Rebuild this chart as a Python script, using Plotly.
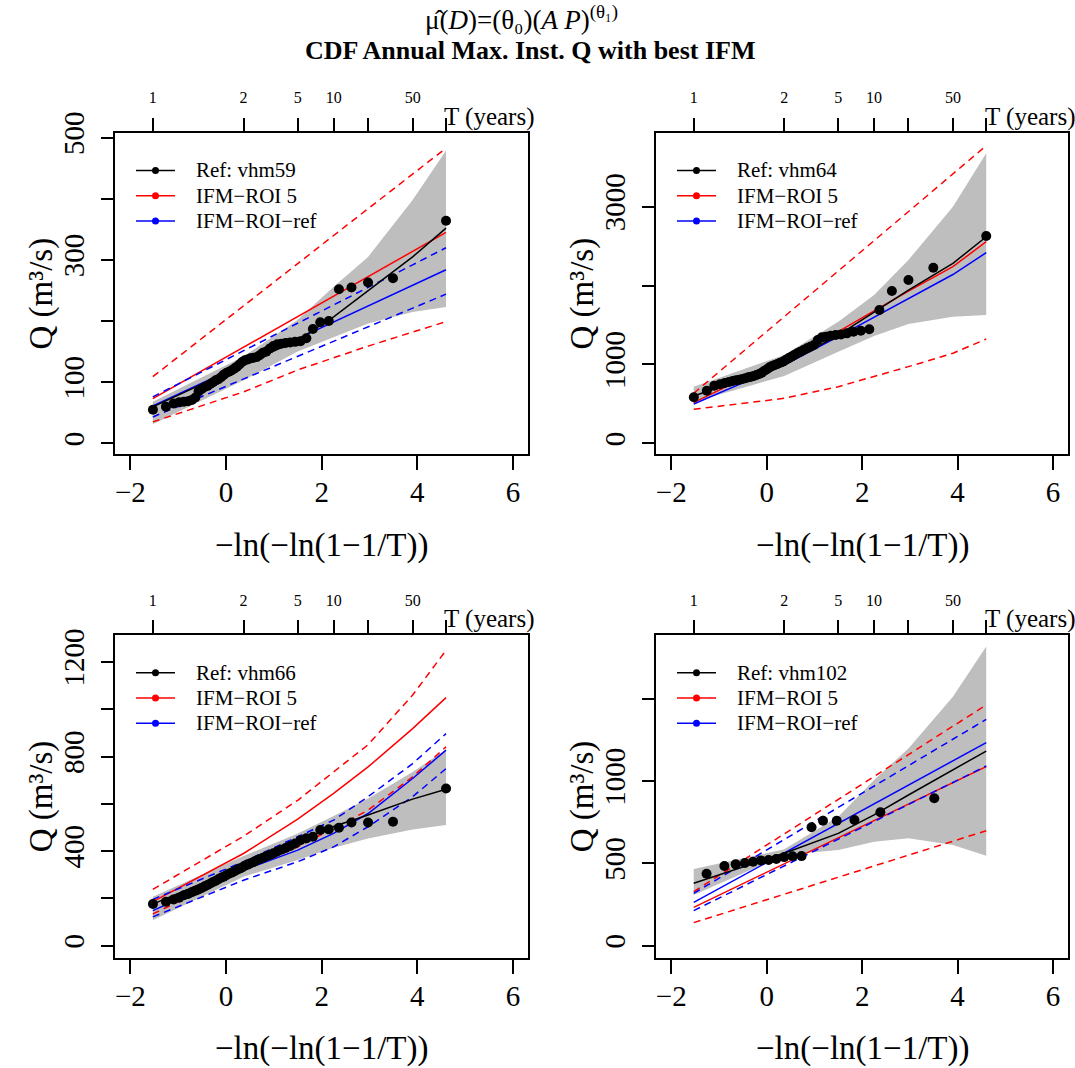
import numpy as np
import plotly.graph_objects as go

W, H = 1075, 1068
FONT = "Liberation Serif"

# ---------------- data ----------------
# return periods used for the fitted curves and the top axis
T_years = [1.01, 2, 5, 10, 20, 50, 100]
T_labels = ["1", "2", "5", "10", "", "50", ""]

x_tickvals = [-2, 0, 2, 4, 6]
x_ticktext = ["\u22122", "0", "2", "4", "6"]

stations = ["vhm59", "vhm64", "vhm66", "vhm102"]

# observed annual maximum instantaneous discharge (sorted), m3/s
obs_vhm59 = [55, 60, 65, 67, 68, 69, 71, 75, 85, 89, 92, 94, 97, 100, 103, 105, 108, 112,
             115, 117, 119, 122, 125, 129, 133, 136, 137, 139, 140, 141, 144, 148, 150, 155,
             159, 162, 163, 164, 165, 166, 167, 172, 187, 198, 200, 252, 255, 263, 270, 364]
obs_vhm64 = [583, 667, 731, 748, 765, 777, 790, 798, 807, 815, 824, 836, 845, 853, 866, 879,
             896, 921, 938, 963, 980, 993, 1005, 1022, 1035, 1056, 1077, 1098, 1120, 1141,
             1162, 1183, 1204, 1225, 1246, 1310, 1343, 1352, 1365, 1373, 1381, 1394, 1415,
             1428, 1445, 1690, 1931, 2070, 2226, 2628]
obs_vhm66 = [176, 186, 195, 203, 213, 219, 226, 232, 238, 244, 251, 257, 263, 269, 275, 281,
             287, 292, 298, 304, 309, 314, 320, 326, 331, 338, 343, 349, 354, 360, 366, 372,
             378, 384, 391, 398, 406, 413, 422, 432, 446, 454, 461, 489, 492, 499, 521, 521,
             524, 665]
obs_vhm102 = [437, 484, 494, 502, 510, 518, 520, 526, 538, 543, 544, 719, 759, 759, 763, 810, 895]

# quantiles at T_years: reference fit, uncertainty band, IFM-ROI 5 and IFM-ROI-ref (+ bounds)
band_lo_vhm59 = [31, 103, 150, 174, 196, 215, 223]
band_hi_vhm59 = [68, 142, 202, 256, 305, 398, 479]
fit_vhm59 = [59.5, 128, 169, 207, 250, 305, 352]
roi5_vhm59 = [73, 157, 207.5, 240.8, 272.8, 314, 345]
roi5_lo_vhm59 = [35, 84, 120, 140, 159, 182, 199]
roi5_hi_vhm59 = [109, 224, 294, 340, 384, 440, 483]
roiref_vhm59 = [61, 130, 171, 198, 224, 258, 284]
roiref_lo_vhm59 = [43, 105, 142, 167, 191, 221, 244]
roiref_hi_vhm59 = [76, 152, 197, 227, 255, 292, 320]

band_lo_vhm64 = [528, 853, 1162, 1360, 1512, 1605, 1627]
band_hi_vhm64 = [718, 1120, 1542, 1880, 2324, 3000, 3676]
fit_vhm64 = [600, 993, 1373, 1669, 1943, 2281, 2619]
roi5_vhm64 = [515, 1077, 1415, 1680, 1930, 2240, 2556]
roi5_lo_vhm64 = [431, 570, 718, 845, 972, 1141, 1322]
roi5_hi_vhm64 = [634, 1605, 2185, 2569, 2938, 3414, 3773]
roiref_vhm64 = [498, 993, 1352, 1600, 1830, 2140, 2417]
roiref_lo_vhm64 = None
roiref_hi_vhm64 = None

band_lo_vhm66 = [108, 292, 362, 414, 453, 491, 510]
band_hi_vhm66 = [207, 379, 475, 548, 622, 735, 830]
fit_vhm66 = [176, 337, 440, 504, 553, 620, 662]
roi5_vhm66 = [186, 390, 535, 644, 756, 918, 1049]
roi5_lo_vhm66 = [134, 320, 418, 496, 573, 714, 841]
roi5_hi_vhm66 = [238, 463, 615, 733, 850, 1060, 1249]
roiref_vhm66 = [148, 320, 404, 475, 559, 707, 827]
roiref_lo_vhm66 = [122, 277, 355, 418, 503, 630, 749]
roiref_hi_vhm66 = [196, 355, 461, 531, 630, 770, 897]

band_lo_vhm102 = [308, 551, 581, 631, 652, 611, 546]
band_hi_vhm102 = [466, 585, 783, 1006, 1198, 1512, 1816]
fit_vhm102 = [379, 561, 682, 794, 915, 1067, 1182]
roi5_vhm102 = [233, 497, 655, 759, 860, 989, 1087]
roi5_lo_vhm102 = [140, 313, 416, 484, 550, 634, 698]
roi5_hi_vhm102 = [328, 679, 888, 1027, 1160, 1332, 1462]
roiref_vhm102 = [263, 563, 742, 861, 975, 1122, 1233]
roiref_lo_vhm102 = [213, 485, 647, 754, 858, 991, 1091]
roiref_hi_vhm102 = [318, 645, 840, 969, 1093, 1253, 1374]

# y axis ticks / labels per panel
y_ticks = [[0, 100, 200, 300, 400, 500],
           [0, 1000, 2000, 3000],
           [0, 200, 400, 600, 800, 1000, 1200],
           [0, 500, 1000, 1500]]
y_ticktext = [["0", "100", "", "300", "", "500"],
              ["0", "1000", "", "3000"],
              ["0", "", "400", "", "800", "", "1200"],
              ["0", "500", "1000", ""]]
y_ranges = [[-18.0, 508.2], [-139.5, 3938], [-50.8, 1314], [-72.9, 1886.5]]
x_range = [-2.32, 6.32]

panels = [
    dict(obs=obs_vhm59, lo=band_lo_vhm59, hi=band_hi_vhm59, fit=fit_vhm59,
         r5=roi5_vhm59, r5lo=roi5_lo_vhm59, r5hi=roi5_hi_vhm59,
         rr=roiref_vhm59, rrlo=roiref_lo_vhm59, rrhi=roiref_hi_vhm59),
    dict(obs=obs_vhm64, lo=band_lo_vhm64, hi=band_hi_vhm64, fit=fit_vhm64,
         r5=roi5_vhm64, r5lo=roi5_lo_vhm64, r5hi=roi5_hi_vhm64,
         rr=roiref_vhm64, rrlo=roiref_lo_vhm64, rrhi=roiref_hi_vhm64),
    dict(obs=obs_vhm66, lo=band_lo_vhm66, hi=band_hi_vhm66, fit=fit_vhm66,
         r5=roi5_vhm66, r5lo=roi5_lo_vhm66, r5hi=roi5_hi_vhm66,
         rr=roiref_vhm66, rrlo=roiref_lo_vhm66, rrhi=roiref_hi_vhm66),
    dict(obs=obs_vhm102, lo=band_lo_vhm102, hi=band_hi_vhm102, fit=fit_vhm102,
         r5=roi5_vhm102, r5lo=roi5_lo_vhm102, r5hi=roi5_hi_vhm102,
         rr=roiref_vhm102, rrlo=roiref_lo_vhm102, rrhi=roiref_hi_vhm102),
]

# ---------------- helpers ----------------
def gumbel(F):
    F = np.asarray(F, dtype=float)
    return -np.log(-np.log(F))

xT = gumbel(1.0 - 1.0 / np.array(T_years))

def px_x(p):
    return p / W

def px_y(p):
    return 1.0 - p / H

# plot boxes in pixels (left, top, right, bottom)
boxes = [(115.0, 132.7, 528.3, 454.3), (656.0, 132.7, 1068.3, 454.3),
         (115.0, 635.0, 528.3, 957.7), (656.0, 635.0, 1068.3, 957.7)]

BLACK, RED, BLUE, GREY = "#000000", "#FF0000", "#0000FF", "#BEBEBE"
DASH = "7px,5px"
LW = 1.5

fig = go.Figure()
layout = dict(width=W, height=H,
              margin=dict(l=0, r=0, t=0, b=0, pad=0, autoexpand=False),
              paper_bgcolor="white", plot_bgcolor="white", showlegend=False,
              font=dict(family=FONT, color="black"))
annotations = []
shapes = []

for k, (p, box) in enumerate(zip(panels, boxes), start=1):
    xa, ya = f"x{k}", f"y{k}"
    L, T, R, B = box
    xd = [px_x(L), px_x(R)]
    yd = [px_y(B), px_y(T)]

    # band
    bx = list(xT) + list(xT[::-1])
    by = list(p["lo"]) + list(p["hi"][::-1])
    fig.add_trace(go.Scatter(x=bx, y=by, fill="toself", fillcolor=GREY, mode="lines",
                             line=dict(width=0, color=GREY), xaxis=xa, yaxis=ya,
                             hoverinfo="skip"))
    # IFM-ROI 5
    fig.add_trace(go.Scatter(x=xT, y=p["r5"], mode="lines", line=dict(color=RED, width=LW),
                             xaxis=xa, yaxis=ya))
    for key in ("r5lo", "r5hi"):
        fig.add_trace(go.Scatter(x=xT, y=p[key], mode="lines",
                                 line=dict(color=RED, width=LW, dash=DASH), xaxis=xa, yaxis=ya))
    # IFM-ROI-ref
    fig.add_trace(go.Scatter(x=xT, y=p["rr"], mode="lines", line=dict(color=BLUE, width=LW),
                             xaxis=xa, yaxis=ya))
    for key in ("rrlo", "rrhi"):
        if p[key] is not None:
            fig.add_trace(go.Scatter(x=xT, y=p[key], mode="lines",
                                     line=dict(color=BLUE, width=LW, dash=DASH), xaxis=xa, yaxis=ya))
    # reference fit + observations
    fig.add_trace(go.Scatter(x=xT, y=p["fit"], mode="lines", line=dict(color=BLACK, width=LW),
                             xaxis=xa, yaxis=ya))
    n = len(p["obs"])
    xo = gumbel((np.arange(1, n + 1) - 0.5) / n)
    fig.add_trace(go.Scatter(x=xo, y=p["obs"], mode="markers",
                             marker=dict(color=BLACK, size=10, line=dict(width=0)),
                             xaxis=xa, yaxis=ya))
    # dummy for top axis
    fig.add_trace(go.Scatter(x=[None], y=[None], xaxis=f"x{k+4}", yaxis=ya, hoverinfo="skip"))

    layout[f"xaxis{k}"] = dict(domain=xd, range=x_range, anchor=ya, automargin=False,
                               tickmode="array", tickvals=x_tickvals, ticktext=x_ticktext,
                               ticks="outside", ticklen=14, tickwidth=2, tickcolor="black",
                               showline=True, linewidth=2, linecolor="black", mirror=True,
                               showgrid=False, zeroline=False, ticklabelstandoff=-3,
                               tickfont=dict(family=FONT, size=29, color="black"))
    layout[f"xaxis{k+4}"] = dict(overlaying=xa, anchor=ya, side="top", range=x_range,
                                 automargin=False,
                                 tickmode="array", tickvals=list(xT), ticktext=T_labels,
                                 ticks="outside", ticklen=14, tickwidth=2, tickcolor="black",
                                 showline=False, showgrid=False, zeroline=False,
                                 ticklabelstandoff=8,
                                 tickfont=dict(family=FONT, size=16, color="black"))
    layout[f"yaxis{k}"] = dict(domain=yd, range=y_ranges[k - 1], anchor=xa, automargin=False,
                               tickmode="array", tickvals=y_ticks[k - 1],
                               ticktext=y_ticktext[k - 1], tickangle=-90,
                               ticks="outside", ticklen=12, tickwidth=2, tickcolor="black",
                               showline=True, linewidth=2, linecolor="black", mirror=True,
                               showgrid=False, zeroline=False, ticklabelstandoff=5,
                               tickfont=dict(family=FONT, size=29, color="black"))

    cx = (L + R) / 2
    cy = (T + B) / 2
    # axis titles
    annotations.append(dict(text="\u2212ln(\u2212ln(1\u22121/T))", x=px_x(cx), y=px_y(B + 91),
                            xref="paper", yref="paper", showarrow=False,
                            xanchor="center", yanchor="middle",
                            font=dict(family=FONT, size=33, color="black")))
    annotations.append(dict(text="Q (m\u00b3/s)", x=px_x(L - 74), y=px_y(cy),
                            xref="paper", yref="paper", showarrow=False, textangle=-90,
                            xanchor="center", yanchor="middle",
                            font=dict(family=FONT, size=33, color="black")))
    annotations.append(dict(text="T (years)", x=px_x(L + 326.7), y=px_y(T - 16),
                            xref="paper", yref="paper", showarrow=False,
                            xanchor="left", yanchor="middle",
                            font=dict(family=FONT, size=25, color="black")))

    # legend
    names = ["Ref: " + stations[k - 1], "IFM\u2212ROI 5", "IFM\u2212ROI\u2212ref"]
    cols = [BLACK, RED, BLUE]
    for j, (nm, c) in enumerate(zip(names, cols)):
        yy = T + 37.7 + 25.3 * j
        shapes.append(dict(type="line", xref="paper", yref="paper",
                           x0=px_x(L + 21), x1=px_x(L + 60), y0=px_y(yy), y1=px_y(yy),
                           line=dict(color=c, width=LW)))
        shapes.append(dict(type="circle", xref="paper", yref="paper",
                           x0=px_x(L + 40.5 - 3.5), x1=px_x(L + 40.5 + 3.5),
                           y0=px_y(yy + 3.5), y1=px_y(yy - 3.5),
                           fillcolor=c, line=dict(color=c, width=0)))
        annotations.append(dict(text=nm, x=px_x(L + 79), y=px_y(yy), xref="paper", yref="paper",
                                showarrow=False, xanchor="left", yanchor="middle",
                                font=dict(family=FONT, size=21, color="black")))

# titles
annotations.append(dict(text="\u03bc\u0302(<i>D</i>)=(\u03b8\u2080)(<i>A P</i>)<sup>(\u03b8\u2081)</sup>",
                        x=px_x(521), y=px_y(18), xref="paper", yref="paper", showarrow=False,
                        xanchor="center", yanchor="middle",
                        font=dict(family=FONT, size=27, color="black")))
annotations.append(dict(text="<b>CDF Annual Max. Inst. Q with best IFM</b>",
                        x=px_x(530), y=px_y(50), xref="paper", yref="paper", showarrow=False,
                        xanchor="center", yanchor="middle",
                        font=dict(family=FONT, size=26, color="black")))

layout["annotations"] = annotations
layout["shapes"] = shapes
fig.update_layout(**layout)
fig.write_html("out.html")
